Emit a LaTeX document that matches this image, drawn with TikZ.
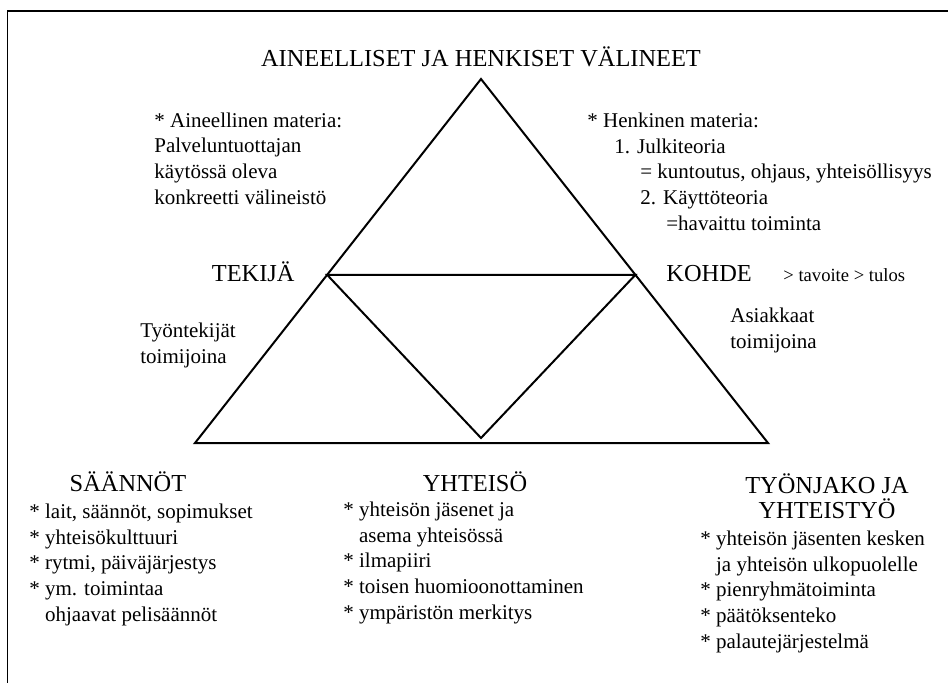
\documentclass[tikz,border=0pt]{standalone}
\usepackage{fontspec}
\setmainfont{Liberation Serif}
\usetikzlibrary{calc}
\begin{document}
\begin{tikzpicture}[x=0.5pt,y=-0.5pt,
    otsikko/.style={font=\fontsize{12.2}{12.5}\selectfont, inner sep=0pt, align=center},
    teksti/.style={font=\fontsize{10.5}{12.8}\selectfont, inner sep=0pt, align=left},
    viiva/.style={line width=1pt, line join=miter}]
    \useasboundingbox (0,0) rectangle (948,682);
    % kehys
    \draw[line width=0.8pt] (7.5,1000) -- (7.5,11) -- (1000,11);
    % kolmiot
    \coordinate (huippu) at (481,79);
    \coordinate (vasen) at (195,443);
    \coordinate (oikea) at (768,443);
    \coordinate (tekija) at ($(huippu)!0.538!(vasen)$);
    \coordinate (kohde) at ($(huippu)!0.538!(oikea)$);
    \coordinate (yhteiso) at (481,438);
    \draw[viiva] (huippu) -- (oikea) -- (vasen) -- cycle;
    \draw[viiva] (tekija) -- (kohde) -- (yhteiso) -- cycle;
    % ylaosa (base = viimeisen rivin perusviiva)
    \node[otsikko, anchor=base] (valineet) at (481,66) {AINEELLISET JA HENKISET VÄLINEET};
    \node[teksti, anchor=base west] (aineellinen) at (154,204)
        {* Aineellinen materia:\\Palveluntuottajan\\käytössä oleva\\konkreetti välineistö};
    \node[teksti, anchor=base west] (henkinen) at (587,230)
        {* Henkinen materia:\\\hspace*{13.5pt}1. Julkiteoria\\\hspace*{26.5pt}= kuntoutus, ohjaus, yhteisöllisyys\\\hspace*{26.5pt}2. Käyttöteoria\\\hspace*{39.5pt}=havaittu toiminta};
    % keskiosa
    \node[otsikko, anchor=base east] (tekijaotsikko) at (295,281) {TEKIJÄ};
    \node[otsikko, anchor=base west] (kohdeotsikko) at (666,281) {KOHDE};
    \node[font=\fontsize{9.3}{11}\selectfont, inner sep=0pt, anchor=base west] (tavoite) at (783,281) {> tavoite > tulos};
    \node[teksti, anchor=base west] (tyontekijat) at (140,363) {Työntekijät\\toimijoina};
    \node[teksti, anchor=base west] (asiakkaat) at (730,348) {Asiakkaat\\toimijoina};
    % alaosa
    \node[otsikko, anchor=base] (saannot) at (128,491) {SÄÄNNÖT};
    \node[teksti, anchor=base west] (saannotlista) at (29,621)
        {* lait, säännöt, sopimukset\\* yhteisökulttuuri\\* rytmi, päiväjärjestys\\* ym. toimintaa\\\phantom{* }ohjaavat pelisäännöt};
    \node[otsikko, anchor=base] (yhteisootsikko) at (475,491) {YHTEISÖ};
    \node[teksti, anchor=base west] (yhteisolista) at (343,619)
        {* yhteisön jäsenet ja\\\phantom{* }asema yhteisössä\\* ilmapiiri\\* toisen huomioonottaminen\\* ympäristön merkitys};
    \node[otsikko, anchor=base] (tyonjako) at (827,518) {TYÖNJAKO JA\\YHTEISTYÖ};
    \node[teksti, anchor=base west] (tyonjakolista) at (700,648)
        {* yhteisön jäsenten kesken\\\phantom{* }ja yhteisön ulkopuolelle\\* pienryhmätoiminta\\* päätöksenteko\\* palautejärjestelmä};
\end{tikzpicture}
\end{document}
